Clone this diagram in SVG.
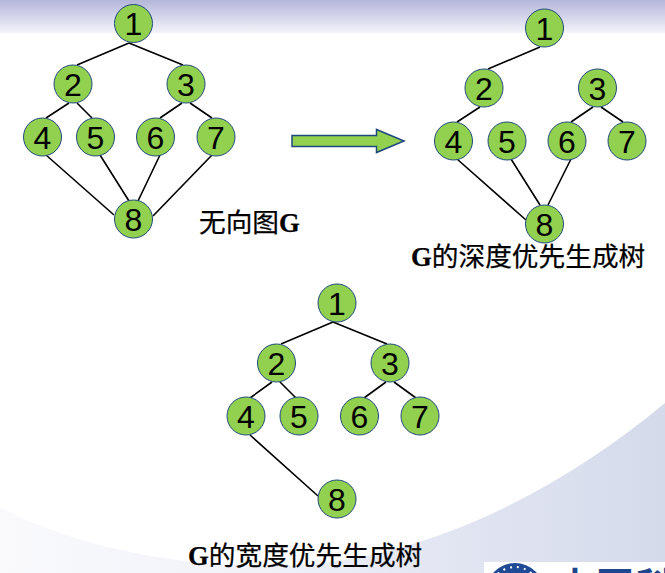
<svg xmlns="http://www.w3.org/2000/svg" width="665" height="573" viewBox="0 0 665 573">
<style>
.e{stroke:#000;stroke-width:1.6;fill:none}
.n{fill:#92d050;stroke:#1f497d;stroke-width:1}
.l{font-family:"Liberation Sans",Arial,sans-serif;font-size:32px;fill:#000;text-anchor:middle}
.t{font-family:"Liberation Serif","Noto Sans CJK SC",serif;font-size:26.700px;fill:#000;stroke:#000;stroke-width:.25}
.g{font-weight:700}
</style>
<defs>
<linearGradient id="top" x1="0" y1="0" x2="0" y2="1"><stop offset="0" stop-color="#b4b6da"/><stop offset="1" stop-color="#f4f4fa"/></linearGradient>
<linearGradient id="bot" x1="0" y1="0" x2="1" y2="0"><stop offset="0" stop-color="#fafafd"/><stop offset="0.4" stop-color="#f0f2f8"/><stop offset="0.7" stop-color="#e1e5f2"/><stop offset="1" stop-color="#d5daeb"/></linearGradient>
<g id="n"><circle class="n" r="19"/></g>
</defs>
<g id="background">
<rect width="665" height="573" fill="#fff"/>
<rect width="665" height="33" fill="url(#top)"/>
<path d="M0 507C70 545 170 566 270 566C420 566 560 490 665 403V573H0Z" fill="url(#bot)"/>
<rect x="484" y="562" width="181" height="11" fill="#fff"/>
<circle cx="515" cy="592" r="29" fill="#1f4a96"/>
<circle cx="515" cy="592" r="25" fill="none" stroke="#fff" stroke-width="2" stroke-dasharray="2 5"/>
<text x="556" y="600" font-family="Noto Sans CJK SC,sans-serif" font-weight="700" font-size="38" letter-spacing="2" fill="#1d4690">中国科</text>
</g>
<g id="connectors">
<path class="e" d="M129 43L77 65M129 43L183 65M69 103L46 118M77 103L92 118M182 103L160 118M190 103L212 118M46 155L114 215M100 155L129 201M160 155L138 201M212 155L153 216"/>
<path class="e" d="M540 47L488 69M480 107L457 122M593 107L571 122M601 107L623 122M457 159L526 220M511 159L540 205M571 159L548 205"/>
<path class="e" d="M333 322L281 344M333 322L387 344M272 382L250 398M280 382L296 398M386 382L364 398M394 382L416 398M250 435L318 496"/>
</g>
<g id="arrow"><path d="M292 135.500H376.500V129.500L404 141L376.500 152.500V146.500H292Z" fill="#92d050" stroke="#1f497d" stroke-width="1.500"/></g>
<g id="g1-1"><use href="#n" x="133.500" y="23.500"/><text class="l" x="133.500" y="35">1</text></g>
<g id="g1-2"><use href="#n" x="73" y="84"/><text class="l" x="73" y="95.500">2</text></g>
<g id="g1-3"><use href="#n" x="186" y="84"/><text class="l" x="186" y="95.500">3</text></g>
<g id="g1-4"><use href="#n" x="42.500" y="137"/><text class="l" x="42.500" y="148.500">4</text></g>
<g id="g1-5"><use href="#n" x="95.500" y="137"/><text class="l" x="95.500" y="148.500">5</text></g>
<g id="g1-6"><use href="#n" x="155.500" y="137"/><text class="l" x="155.500" y="148.500">6</text></g>
<g id="g1-7"><use href="#n" x="216" y="137"/><text class="l" x="216" y="148.500">7</text></g>
<g id="g1-8"><use href="#n" x="133.500" y="219"/><text class="l" x="133.500" y="230.500">8</text></g>
<g id="g2-1"><use href="#n" x="544.500" y="28"/><text class="l" x="544.500" y="39.500">1</text></g>
<g id="g2-2"><use href="#n" x="484" y="88"/><text class="l" x="484" y="99.500">2</text></g>
<g id="g2-3"><use href="#n" x="597.500" y="88"/><text class="l" x="597.500" y="99.500">3</text></g>
<g id="g2-4"><use href="#n" x="453.500" y="141"/><text class="l" x="453.500" y="152.500">4</text></g>
<g id="g2-5"><use href="#n" x="507" y="141"/><text class="l" x="507" y="152.500">5</text></g>
<g id="g2-6"><use href="#n" x="567" y="141"/><text class="l" x="567" y="152.500">6</text></g>
<g id="g2-7"><use href="#n" x="627" y="141"/><text class="l" x="627" y="152.500">7</text></g>
<g id="g2-8"><use href="#n" x="544.500" y="224"/><text class="l" x="544.500" y="235.500">8</text></g>
<g id="g3-1"><use href="#n" x="337" y="303"/><text class="l" x="337" y="314.500">1</text></g>
<g id="g3-2"><use href="#n" x="276.500" y="363"/><text class="l" x="276.500" y="374.500">2</text></g>
<g id="g3-3"><use href="#n" x="390" y="363"/><text class="l" x="390" y="374.500">3</text></g>
<g id="g3-4"><use href="#n" x="246" y="416"/><text class="l" x="246" y="427.500">4</text></g>
<g id="g3-5"><use href="#n" x="299" y="416"/><text class="l" x="299" y="427.500">5</text></g>
<g id="g3-6"><use href="#n" x="359.500" y="416"/><text class="l" x="359.500" y="427.500">6</text></g>
<g id="g3-7"><use href="#n" x="420" y="416"/><text class="l" x="420" y="427.500">7</text></g>
<g id="g3-8"><use href="#n" x="337" y="499"/><text class="l" x="337" y="510.500">8</text></g>
<g id="labels">
<text class="t" x="199" y="232">无向图<tspan class="g">G</tspan></text>
<text class="t" x="411" y="266"><tspan class="g">G</tspan>的深度优先生成树</text>
<text class="t" x="188" y="565"><tspan class="g">G</tspan>的宽度优先生成树</text>
</g>
</svg>
